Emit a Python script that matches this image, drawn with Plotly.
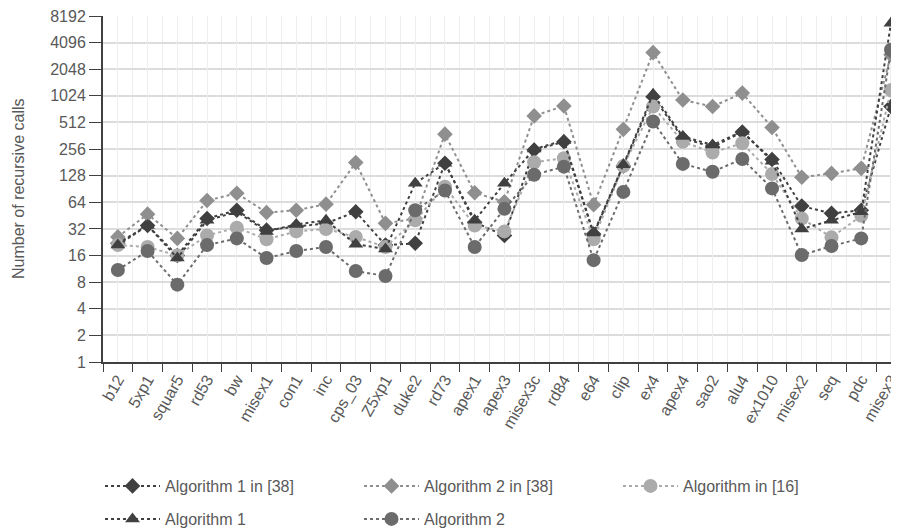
import plotly.graph_objects as go

categories = ["b12", "5xp1", "squar5", "rd53", "bw", "misex1", "con1", "inc", "cps_03",
              "Z5xp1", "duke2", "rd73", "apex1", "apex3", "misex3c", "rd84", "e64", "clip",
              "ex4", "apex4", "sao2", "alu4", "ex1010", "misex2", "seq", "pdc", "misex3"]

alg1_in_38 = [22, 35, 16, 42, 52, 31, 34, 37, 50, 21, 22, 177, 38, 27, 250, 310, 28, 165,
              1000, 340, 270, 400, 195, 58, 48, 52, 775]
alg2_in_38 = [26, 47, 25, 67, 81, 49, 52, 61, 180, 37, 42, 378, 82, 65, 608, 788, 60, 428,
              3160, 920, 775, 1100, 450, 123, 136, 155, 2980]
alg_in_16 = [21, 20, 16, 27, 33, 24.5, 30, 32, 26, 20, 40, 96, 35, 30, 182, 202, 24.5, 165,
             775, 310, 234, 298, 134, 42, 25.7, 45, 1190]
alg1 = [21, 35, 15, 40, 50, 30, 36, 40, 21.5, 19, 105, 177, 40, 105, 256, 320, 28.7, 170,
        1070, 355, 285, 405, 187, 32, 40, 50, 6800]
alg2 = [11, 18, 7.5, 21, 25, 15, 18, 20, 10.7, 9.4, 52, 87, 20, 54, 131, 162, 14.2, 84,
        525, 174, 142, 198, 92, 16.2, 20.5, 25, 3400]

y_ticks = [1, 2, 4, 8, 16, 32, 64, 128, 256, 512, 1024, 2048, 4096, 8192]

series = [
    ("Algorithm 1 in [38]", alg1_in_38, "diamond", "#404040", 12, "legend"),
    ("Algorithm 2 in [38]", alg2_in_38, "diamond", "#8f8f8f", 12, "legend"),
    ("Algorithm in [16]", alg_in_16, "circle", "#ababab", 14, "legend"),
    ("Algorithm 1", alg1, "triangle-up", "#404040", 13, "legend2"),
    ("Algorithm 2", alg2, "circle", "#6b6b6b", 14, "legend2"),
]

FONT = "Liberation Sans"
TXT = "#595959"
OFF = 8  # default page body margin
W, H = 899 - OFF, 530 - OFF
L, R, T, B = 103 - OFF, 0, 16 - OFF, 530 - 362
XR = [-0.5, 26.27]
YR = [0, 3.9137]

fig = go.Figure()
for name, vals, sym, col, size, lg in series:
    fig.add_trace(go.Scatter(
        x=categories, y=vals, name=name, mode="lines+markers",
        line=dict(color=col, width=2, dash="dot"),
        marker=dict(symbol=sym, color=col, size=size),
        legend=lg, cliponaxis=False,
    ))

# invisible trace on a secondary axis that carries the centre gridlines
fig.add_trace(go.Scatter(x=[0], y=[1], xaxis="x2", yaxis="y", mode="markers",
                         marker=dict(opacity=0), showlegend=False, hoverinfo="skip"))

plot_w = W - L - R
plot_h = H - T - B


def px_y(y):
    return (T + plot_h - (y - OFF)) / plot_h


def px_x(x):
    return ((x - OFF) - L) / plot_w


fig.update_layout(
    width=W, height=H,
    margin=dict(l=L, r=R, t=T, b=B, autoexpand=False),
    paper_bgcolor="white", plot_bgcolor="white",
    font=dict(family=FONT, size=15, color=TXT),
    xaxis=dict(
        type="category", range=XR, tickson="boundaries", automargin=False,
        showgrid=True, gridcolor="#eeeeee", gridwidth=1,
        ticks="outside", ticklen=8, tickcolor="#404040", tickwidth=1,
        showline=True, linecolor="#404040", linewidth=2,
        tickangle=-60, tickfont=dict(family=FONT, size=16, color=TXT),
        ticklabeloverflow="allow", zeroline=False,
    ),
    xaxis2=dict(
        overlaying="x", range=XR, tick0=0, dtick=1, automargin=False,
        showgrid=True, gridcolor="#eeeeee", gridwidth=1,
        showticklabels=False, ticks="", zeroline=False, showline=False,
    ),
    yaxis=dict(
        type="log", range=YR, tickmode="array", tickvals=y_ticks,
        ticktext=[str(v) for v in y_ticks],
        automargin=False, ticklabeloverflow="allow",
        showgrid=True, gridcolor="#dcdcdc", gridwidth=2,
        ticks="outside", ticklen=12, tickcolor="#404040", tickwidth=1,
        showline=True, linecolor="#404040", linewidth=2,
        tickfont=dict(family=FONT, size=16, color=TXT),
        zeroline=False,
    ),
    annotations=[dict(
        text="Number of recursive calls", xref="paper", yref="paper",
        x=px_x(18), y=0.5, xanchor="center", yanchor="middle",
        textangle=-90, showarrow=False, font=dict(family=FONT, size=16, color=TXT),
    )],
    legend=dict(orientation="h", x=px_x(100), xanchor="left",
                y=px_y(486), yanchor="middle",
                entrywidth=189, entrywidthmode="pixels", itemwidth=55,
                font=dict(family=FONT, size=16, color=TXT), bgcolor="rgba(0,0,0,0)"),
    legend2=dict(orientation="h", x=px_x(100), xanchor="left",
                 y=px_y(519), yanchor="middle",
                 entrywidth=189, entrywidthmode="pixels", itemwidth=55,
                 font=dict(family=FONT, size=16, color=TXT), bgcolor="rgba(0,0,0,0)"),
)

fig.write_html("out.html")
